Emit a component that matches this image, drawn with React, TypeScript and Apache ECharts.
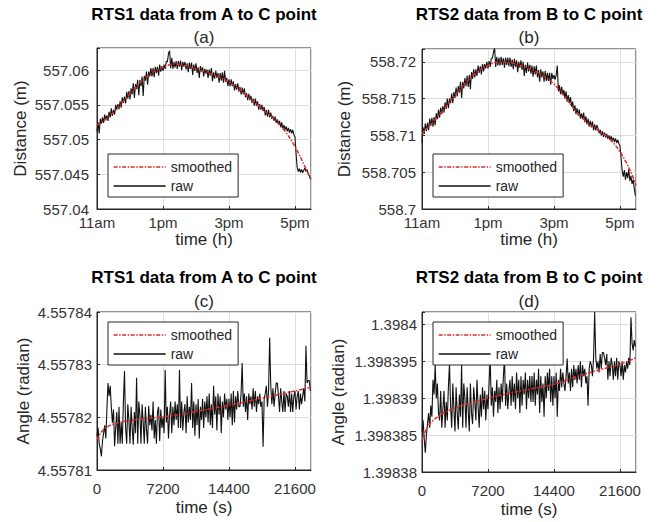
import React, { useEffect, useRef } from 'react';
import * as echarts from 'echarts';

// ---------- data ----------
const timeS = [
  0, 120, 240, 360, 480, 600, 720, 840, 960, 1080, 1200, 1320, 1440, 1560, 1680, 1800, 1920, 2040, 2160, 2280,
  2400, 2520, 2640, 2760, 2880, 3000, 3120, 3240, 3360, 3480, 3600, 3720, 3840, 3960, 4080, 4200, 4320, 4440, 4560, 4680,
  4800, 4920, 5040, 5160, 5280, 5400, 5520, 5640, 5760, 5880, 6000, 6120, 6240, 6360, 6480, 6600, 6720, 6840, 6960, 7080,
  7200, 7320, 7440, 7560, 7680, 7800, 7920, 8040, 8160, 8280, 8400, 8520, 8640, 8760, 8880, 9000, 9120, 9240, 9360, 9480,
  9600, 9720, 9840, 9960, 10080, 10200, 10320, 10440, 10560, 10680, 10800, 10920, 11040, 11160, 11280, 11400, 11520, 11640, 11760, 11880,
  12000, 12120, 12240, 12360, 12480, 12600, 12720, 12840, 12960, 13080, 13200, 13320, 13440, 13560, 13680, 13800, 13920, 14040, 14160, 14280,
  14400, 14520, 14640, 14760, 14880, 15000, 15120, 15240, 15360, 15480, 15600, 15720, 15840, 15960, 16080, 16200, 16320, 16440, 16560, 16680,
  16800, 16920, 17040, 17160, 17280, 17400, 17520, 17640, 17760, 17880, 18000, 18120, 18240, 18360, 18480, 18600, 18720, 18840, 18960, 19080,
  19200, 19320, 19440, 19560, 19680, 19800, 19920, 20040, 20160, 20280, 20400, 20520, 20640, 20760, 20880, 21000, 21120, 21240, 21360, 21480,
  21600, 21720, 21840, 21960, 22080, 22200, 22320, 22440, 22560, 22680, 22800, 22920, 23040, 23160, 23280,
];

const rawA = [
  557.0512, 557.0525, 557.0509, 557.053, 557.0523, 557.0532, 557.0524, 557.0536, 557.0528, 557.0535, 557.0527, 557.054, 557.0532, 557.0545, 557.0534, 557.0543, 557.0536, 557.055, 557.0543, 557.0551,
  557.0544, 557.0555, 557.0546, 557.0561, 557.0553, 557.0562, 557.0552, 557.0569, 557.0559, 557.057, 557.0558, 557.0574, 557.0565, 557.0581, 557.056, 557.058, 557.0573, 557.0586, 557.0564, 557.0586,
  557.0577, 557.0591, 557.0563, 557.0592, 557.0585, 557.0598, 557.0579, 557.0598, 557.0591, 557.0603, 557.0591, 557.0603, 557.059, 557.0605, 557.0596, 557.0605, 557.0592, 557.0608, 557.0598, 557.0606,
  557.0599, 557.0608, 557.0602, 557.0613, 557.0612, 557.0624, 557.0628, 557.0603, 557.0618, 557.0602, 557.0612, 557.0604, 557.0613, 557.0602, 557.0613, 557.0605, 557.0614, 557.06, 557.0612, 557.0605,
  557.0612, 557.0601, 557.061, 557.0597, 557.0611, 557.0602, 557.0611, 557.0593, 557.0608, 557.0599, 557.061, 557.0596, 557.0604, 557.0589, 557.0606, 557.0598, 557.0604, 557.0591, 557.0602, 557.0595,
  557.0601, 557.0589, 557.0601, 557.0592, 557.0603, 557.0584, 557.0597, 557.0588, 557.0599, 557.0589, 557.0596, 557.0582, 557.0596, 557.0585, 557.0597, 557.0582, 557.0599, 557.0583, 557.0589, 557.0577,
  557.0587, 557.0577, 557.0587, 557.0577, 557.0584, 557.0571, 557.058, 557.0572, 557.0581, 557.0569, 557.0576, 557.0565, 557.0575, 557.0565, 557.0574, 557.0561, 557.0567, 557.0557, 557.0566, 557.0557,
  557.0563, 557.0553, 557.0559, 557.0549, 557.0559, 557.0549, 557.0555, 557.0543, 557.0551, 557.0543, 557.055, 557.0541, 557.0547, 557.0535, 557.0543, 557.0533, 557.0543, 557.0532, 557.0539, 557.053,
  557.0534, 557.0527, 557.0533, 557.0524, 557.0529, 557.0522, 557.0527, 557.0518, 557.0525, 557.0516, 557.0521, 557.0514, 557.0519, 557.0512, 557.0517, 557.051, 557.0515, 557.0509, 557.0514, 557.0507,
  557.0504, 557.048, 557.046, 557.0454, 557.0458, 557.0453, 557.0457, 557.0452, 557.0456, 557.0459, 557.0454, 557.0457, 557.0451, 557.0448, 557.0443,
];

const rawB = [
  558.709, 558.7111, 558.7102, 558.7116, 558.7106, 558.7117, 558.7107, 558.7123, 558.7113, 558.7124, 558.7112, 558.7125, 558.7114, 558.713, 558.7122, 558.7135, 558.7124, 558.7138, 558.7129, 558.714,
  558.7131, 558.7145, 558.7136, 558.715, 558.7137, 558.715, 558.7144, 558.7157, 558.7144, 558.7159, 558.7151, 558.7165, 558.7153, 558.7167, 558.7158, 558.7173, 558.7151, 558.7173, 558.7164, 558.7178,
  558.7167, 558.7181, 558.7166, 558.7182, 558.7163, 558.7186, 558.7177, 558.719, 558.7179, 558.719, 558.7181, 558.7195, 558.7185, 558.7194, 558.7183, 558.7197, 558.7187, 558.7197, 558.7191, 558.72,
  558.7191, 558.7201, 558.7193, 558.7205, 558.7205, 558.7213, 558.722, 558.7193, 558.7207, 558.7195, 558.7206, 558.7195, 558.7207, 558.7196, 558.7205, 558.7192, 558.7206, 558.7196, 558.7206, 558.7194,
  558.7206, 558.7193, 558.7203, 558.719, 558.7204, 558.7193, 558.7202, 558.7186, 558.72, 558.7192, 558.7202, 558.7189, 558.72, 558.7181, 558.7196, 558.7185, 558.7199, 558.7187, 558.7196, 558.7184,
  558.7195, 558.718, 558.7194, 558.7183, 558.7195, 558.7179, 558.7189, 558.7173, 558.719, 558.7179, 558.7187, 558.7173, 558.7188, 558.7174, 558.7185, 558.7174, 558.7185, 558.7169, 558.7185, 558.7177,
  558.7182, 558.7176, 558.7182, 558.7195, 558.716, 558.7168, 558.7156, 558.7166, 558.7155, 558.7162, 558.715, 558.716, 558.7146, 558.7155, 558.7144, 558.7152, 558.7139, 558.7146, 558.7133, 558.7141,
  558.7129, 558.7137, 558.7127, 558.7135, 558.7123, 558.713, 558.7122, 558.7131, 558.7118, 558.7126, 558.7115, 558.7123, 558.7112, 558.712, 558.7111, 558.7119, 558.7107, 558.7115, 558.7107, 558.7114,
  558.711, 558.7103, 558.7108, 558.71, 558.7106, 558.7098, 558.7104, 558.7097, 558.7102, 558.7095, 558.71, 558.7094, 558.7099, 558.7093, 558.7097, 558.7091, 558.7096, 558.709, 558.7094, 558.7089,
  558.7086, 558.707, 558.7052, 558.7044, 558.7053, 558.704, 558.705, 558.7042, 558.7054, 558.7038, 558.7045, 558.7034, 558.704, 558.7028, 558.7018,
];

const rawC = [
  4.5578165, 4.557818, 4.557815, 4.557814, 4.5578126, 4.5578155, 4.557817, 4.5578185, 4.557816, 4.5578215, 4.5578265, 4.557824, 4.557826, 4.557822, 4.557819, 4.5578215, 4.5578145, 4.557818, 4.557821, 4.557815,
  4.557822, 4.557815, 4.557819, 4.557815, 4.557823, 4.5578288, 4.557818, 4.557815, 4.5578225, 4.5578195, 4.557815, 4.557822, 4.557818, 4.5578148, 4.557821, 4.557817, 4.5578275, 4.557815, 4.557823, 4.5578205,
  4.557815, 4.5578225, 4.557819, 4.557815, 4.557822, 4.5578175, 4.557815, 4.5578222, 4.5578185, 4.5578205, 4.5578175, 4.557823, 4.557816, 4.5578195, 4.557815, 4.557821, 4.557822, 4.5578155, 4.5578215, 4.557818,
  4.55782, 4.557817, 4.557829, 4.557819, 4.557822, 4.557816, 4.5578205, 4.557823, 4.557817, 4.557822, 4.5578185, 4.557823, 4.5578195, 4.5578225, 4.557818, 4.557829, 4.557818, 4.557823, 4.5578175, 4.557821,
  4.5578225, 4.557817, 4.557824, 4.557819, 4.557822, 4.5578195, 4.5578265, 4.557818, 4.557823, 4.5578165, 4.5578225, 4.5578185, 4.5578235, 4.557816, 4.557822, 4.5578195, 4.5578235, 4.557818, 4.557823, 4.55782,
  4.557824, 4.557819, 4.5578245, 4.5578185, 4.5578225, 4.557818, 4.557826, 4.5578205, 4.557824, 4.5578175, 4.5578245, 4.5578205, 4.557824, 4.557817, 4.557823, 4.55782, 4.5578245, 4.5578215, 4.5578235, 4.5578195,
  4.5578235, 4.55782, 4.5578245, 4.5578185, 4.557825, 4.557819, 4.557824, 4.5578215, 4.557825, 4.557822, 4.557822, 4.5578245, 4.5578303, 4.557822, 4.5578245, 4.557821, 4.557824, 4.5578195, 4.5578245, 4.5578225,
  4.557824, 4.5578215, 4.5578255, 4.557822, 4.557825, 4.557821, 4.557824, 4.5578225, 4.5578245, 4.557822, 4.557823, 4.5578144, 4.5578235, 4.5578245, 4.557826, 4.557822, 4.557825, 4.5578351, 4.557826, 4.5578225,
  4.5578255, 4.557822, 4.5578245, 4.5578265, 4.5578265, 4.557824, 4.557821, 4.5578255, 4.557823, 4.557821, 4.557825, 4.557821, 4.5578245, 4.557824, 4.557822, 4.557825, 4.557821, 4.5578245, 4.557821, 4.557824,
  4.557825, 4.5578215, 4.557824, 4.557825, 4.5578215, 4.5578245, 4.5578225, 4.557824, 4.5578255, 4.557823, 4.5578336, 4.5578265, 4.557827, 4.557827, 4.557825,
];

const rawD = [
  1.3983855, 1.398387, 1.3983845, 1.3983826, 1.398385, 1.3983865, 1.398388, 1.398386, 1.398389, 1.3983875, 1.3983925, 1.3983905, 1.3983945, 1.39839, 1.398392, 1.398388, 1.398387, 1.398391, 1.398386, 1.3983885,
  1.398391, 1.398386, 1.3983895, 1.398387, 1.3983915, 1.3983947, 1.398389, 1.398386, 1.398392, 1.3983885, 1.3983855, 1.3983915, 1.398388, 1.3983858, 1.3983905, 1.3983875, 1.3983945, 1.398386, 1.398392, 1.39839,
  1.398386, 1.3983915, 1.3983885, 1.3983855, 1.398392, 1.398388, 1.3983865, 1.3983915, 1.3983895, 1.398387, 1.3983925, 1.398389, 1.398386, 1.3983905, 1.3983875, 1.3983915, 1.3983885, 1.398391, 1.398387, 1.3983905,
  1.3983885, 1.398392, 1.3983956, 1.398389, 1.3983915, 1.3983875, 1.398391, 1.3983895, 1.3983925, 1.398388, 1.3983915, 1.3983885, 1.398392, 1.3983895, 1.398393, 1.3983954, 1.398389, 1.398392, 1.3983885, 1.398391,
  1.3983925, 1.398389, 1.398393, 1.3983895, 1.398392, 1.3983885, 1.3983935, 1.39839, 1.3983925, 1.398388, 1.398393, 1.398389, 1.3983925, 1.3983905, 1.3983935, 1.3983885, 1.3983925, 1.39839, 1.398393, 1.3983895,
  1.398393, 1.3983895, 1.3983935, 1.398389, 1.3983925, 1.3983905, 1.398394, 1.398388, 1.398393, 1.3983895, 1.398392, 1.3983875, 1.398393, 1.39839, 1.3983935, 1.398391, 1.398394, 1.3983895, 1.398393, 1.398389,
  1.398393, 1.39839, 1.3983935, 1.3983875, 1.3983925, 1.398391, 1.398394, 1.3983915, 1.3983935, 1.398392, 1.398391, 1.398393, 1.3983954, 1.398392, 1.3983935, 1.398391, 1.398394, 1.3983915, 1.3983945, 1.3983925,
  1.398394, 1.398392, 1.3983945, 1.3983925, 1.398395, 1.3983915, 1.3983945, 1.398393, 1.398394, 1.398392, 1.398393, 1.398389, 1.398394, 1.398395, 1.3983945, 1.398393, 1.3983955, 1.3984017, 1.3983955, 1.398394,
  1.398395, 1.3983935, 1.398396, 1.398394, 1.3983962, 1.3983962, 1.3983955, 1.3983945, 1.398396, 1.3983925, 1.398395, 1.398393, 1.3983955, 1.3983945, 1.3983925, 1.398395, 1.398393, 1.3983955, 1.3983925, 1.398395,
  1.3983945, 1.398393, 1.398395, 1.3983925, 1.3983945, 1.3983935, 1.398395, 1.398394, 1.3983955, 1.3983945, 1.398401, 1.3983975, 1.3983965, 1.3983979, 1.398397,
];

const smoothTimeTop = [0, 1200, 2400, 3600, 4800, 6000, 7200, 8400, 9600, 10800, 12000, 13200, 14400, 15600, 16800, 18000, 19200, 20400, 21600, 22800, 23350];
const smoothA = [557.0521, 557.0532, 557.0548, 557.0566, 557.0583, 557.0596, 557.0604, 557.0609, 557.0607, 557.0602, 557.0597, 557.0591, 557.0583, 557.0572, 557.0558, 557.0545, 557.0531, 557.0514, 557.049, 557.0458, 557.0443];
const smoothB = [558.7103, 558.7118, 558.7136, 558.7155, 558.7172, 558.7186, 558.7195, 558.72, 558.7199, 558.7195, 558.7189, 558.7181, 558.717, 558.7152, 558.7133, 558.7118, 558.7107, 558.7096, 558.7078, 558.705, 558.7032];

const smoothTimeBottom = [0, 480, 1200, 2400, 3600, 4800, 7200, 9600, 12000, 14400, 16800, 19200, 21600, 23350];
const smoothC = [4.5578157, 4.5578172, 4.5578183, 4.557819, 4.5578194, 4.5578197, 4.5578201, 4.5578207, 4.5578215, 4.5578223, 4.5578232, 4.5578241, 4.557825, 4.5578257];
const smoothD = [1.3983842, 1.3983858, 1.398387, 1.398388, 1.3983887, 1.3983892, 1.39839, 1.3983907, 1.3983913, 1.3983919, 1.3983929, 1.3983938, 1.3983946, 1.3983955];

const hourLabels: Record<number, string> = { 0: '11am', 7200: '1pm', 14400: '3pm', 21600: '5pm' };
const titles = ['RTS1 data from A to C point', 'RTS2 data from B to C point', 'RTS1 data from A to C point', 'RTS2 data from B to C point'];
const subtitles = ['(a)', '(b)', '(c)', '(d)'];
const yNames = ['Distance (m)', 'Distance (m)', 'Angle (radian)', 'Angle (radian)'];
const xNames = ['time (h)', 'time (h)', 'time (s)', 'time (s)'];
const seriesNames = ['smoothed', 'raw'];

// ---------- layout ----------
const FONT = '"Liberation Sans", Arial, Helvetica, sans-serif';
const AX = '#262626';
const RED = '#e02a2a';

const panels = [
  { grid: { left: 97, top: 48, width: 214, height: 161 }, ymin: 557.04, ymax: 557.0632, yint: 0.005, raw: rawA, st: smoothTimeTop, sm: smoothA, top: true, yNameGap: 68, yLabelMargin: 8, legend: { left: 108, top: 154 }, titleTop: 6, subGap: 6 },
  { grid: { left: 422, top: 49, width: 214, height: 160 }, ymin: 558.7, ymax: 558.72175, yint: 0.005, raw: rawB, st: smoothTimeTop, sm: smoothB, top: true, yNameGap: 69, yLabelMargin: 6, legend: { left: 433, top: 154 }, titleTop: 6, subGap: 6 },
  { grid: { left: 97, top: 312, width: 214, height: 158 }, ymin: 4.55781, ymax: 4.55784, yint: 0.00001, raw: rawC, st: smoothTimeBottom, sm: smoothC, top: false, yNameGap: 65, yLabelMargin: 5, legend: { left: 108, top: 322 }, titleTop: 269, subGap: 7 },
  { grid: { left: 422, top: 312, width: 214, height: 160 }, ymin: 1.39838, ymax: 1.3984017, yint: 0.000005, raw: rawD, st: smoothTimeBottom, sm: smoothD, top: false, yNameGap: 75, yLabelMargin: 5, legend: { left: 433, top: 322 }, titleTop: 269, subGap: 7 },
];

function yFormatter(yint: number) {
  return (v: number) => {
    const r = Math.round(v / yint);
    if (Math.abs(v - r * yint) > yint * 1e-3) return '';
    return String(parseFloat(v.toFixed(8)));
  };
}

function buildOption() {
  const option: any = {
    animation: false,
    backgroundColor: '#ffffff',
    textStyle: { fontFamily: FONT },
    title: [],
    legend: [],
    grid: [],
    xAxis: [],
    yAxis: [],
    series: [],
  };
  panels.forEach((p, i) => {
    const cx = p.grid.left + p.grid.width / 2;
    option.title.push({
      text: titles[i],
      subtext: subtitles[i],
      left: cx,
      top: p.titleTop,
      textAlign: 'center',
      padding: 0,
      itemGap: p.subGap,
      textStyle: { fontFamily: FONT, fontSize: 17, fontWeight: 'bold', color: '#000' },
      subtextStyle: { fontFamily: FONT, fontSize: 17, color: AX },
    });
    option.grid.push({
      ...p.grid,
      show: true,
      borderColor: AX,
      borderWidth: 1,
      backgroundColor: '#fff',
      containLabel: false,
    });
    option.xAxis.push({
      type: 'value',
      gridIndex: i,
      min: 0,
      max: 23350,
      interval: 7200,
      name: xNames[i],
      nameLocation: 'middle',
      nameGap: p.top ? 21 : 29,
      nameTextStyle: { fontFamily: FONT, fontSize: 17, color: AX },
      axisLine: { show: true, lineStyle: { color: AX } },
      axisTick: { show: true, inside: true, length: 3, lineStyle: { color: AX } },
      splitLine: { show: true, lineStyle: { color: '#dedede', width: 1 } },
      axisLabel: {
        fontFamily: FONT,
        fontSize: 15,
        color: '#333',
        margin: p.top ? 6 : 11,
        showMaxLabel: false,
        formatter: p.top
          ? (v: number) => hourLabels[v] ?? ''
          : (v: number) => (v % 7200 === 0 ? String(v) : ''),
      },
    });
    option.yAxis.push({
      type: 'value',
      gridIndex: i,
      min: p.ymin,
      max: p.ymax,
      interval: p.yint,
      name: yNames[i],
      nameLocation: 'middle',
      nameGap: p.yNameGap,
      nameTextStyle: { fontFamily: FONT, fontSize: 17, color: AX },
      axisLine: { show: true, lineStyle: { color: AX } },
      axisTick: { show: true, inside: true, length: 3, lineStyle: { color: AX } },
      splitLine: { show: true, lineStyle: { color: '#dedede', width: 1 } },
      axisLabel: {
        fontFamily: FONT,
        fontSize: 15,
        color: '#333',
        margin: p.yLabelMargin,
        formatter: yFormatter(p.yint),
      },
    });
    option.series.push({
      name: seriesNames[1],
      type: 'line',
      xAxisIndex: i,
      yAxisIndex: i,
      data: timeS.map((t, k) => [t, p.raw[k]]),
      symbol: 'none',
      showSymbol: false,
      lineStyle: { color: '#111', width: 1.1 },
      itemStyle: { color: '#111' },
      z: 2,
    });
    option.series.push({
      name: seriesNames[0],
      type: 'line',
      xAxisIndex: i,
      yAxisIndex: i,
      data: p.st.map((t, k) => [t, p.sm[k]]),
      symbol: 'none',
      showSymbol: false,
      smooth: 0.35,
      lineStyle: { color: RED, width: 1.5, type: [4, 1.5, 1.5, 1.5] },
      itemStyle: { color: RED },
      z: 3,
    });
    option.legend.push({
      data: seriesNames,
      orient: 'vertical',
      left: p.legend.left,
      top: p.legend.top,
      padding: [6, 6, 4, 5],
      itemGap: 5,
      itemWidth: 52,
      itemHeight: 14,
      borderColor: AX,
      borderWidth: 1,
      borderRadius: 0,
      backgroundColor: '#fff',
      selectedMode: false,
      itemStyle: { opacity: 0 },
      lineStyle: { width: 1.3 },
      textStyle: { fontFamily: FONT, fontSize: 14, color: AX },
      z: 10,
    });
  });
  return option;
}

export default function App() {
  const ref = useRef<HTMLDivElement>(null);
  useEffect(() => {
    document.body.style.margin = '0';
    const chart = echarts.init(ref.current as HTMLDivElement, null, { renderer: 'svg' });
    chart.setOption(buildOption());
    return () => chart.dispose();
  }, []);
  return <div ref={ref} style={{ width: 660, height: 522 }} />;
}
